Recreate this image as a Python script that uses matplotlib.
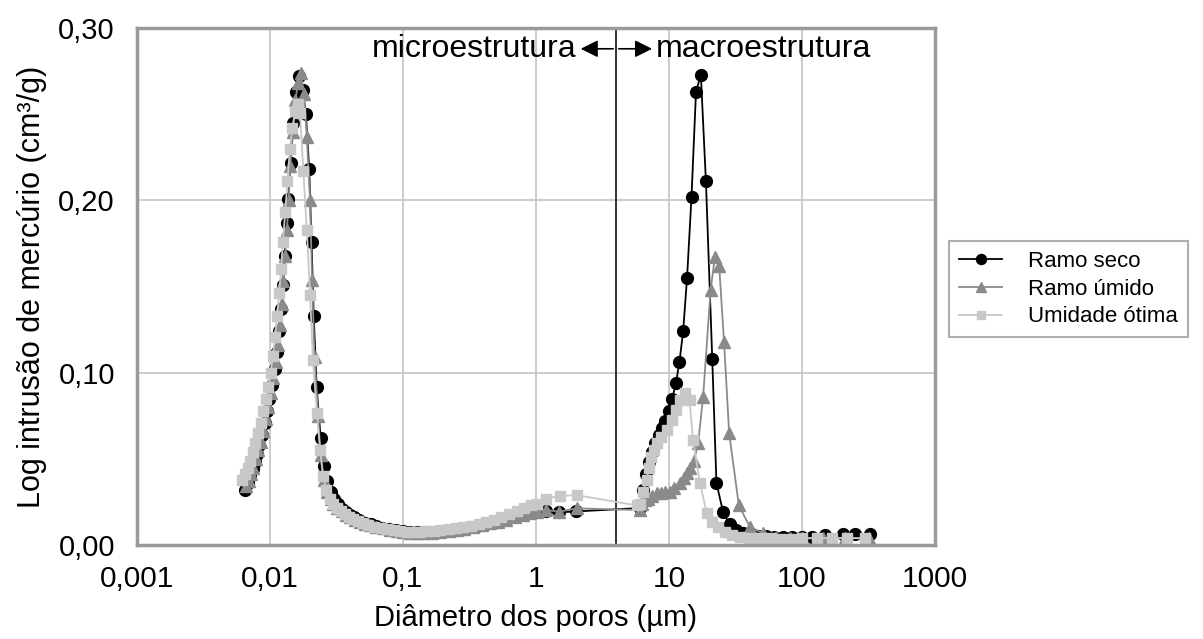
import matplotlib.pyplot as plt
from matplotlib.ticker import FixedLocator, NullLocator

plt.rcParams['font.family'] = ['Liberation Sans', 'DejaVu Sans']

# Ramo seco
x_seco = [0.0065, 0.0068, 0.0071, 0.0074, 0.0077, 0.0080, 0.0083, 0.0087, 0.0091, 0.0095,
          0.0099, 0.0104, 0.0109, 0.0113, 0.0117, 0.0121, 0.0125, 0.0129, 0.0133, 0.0137,
          0.0143, 0.0150, 0.0157, 0.0164, 0.0176, 0.0186, 0.0197, 0.0205, 0.0213, 0.0224,
          0.0240, 0.0255, 0.0270, 0.0287, 0.0305, 0.0325, 0.0347, 0.0372, 0.0400, 0.043,
          0.047, 0.052, 0.057, 0.063, 0.070, 0.078, 0.088, 0.100, 0.113, 0.127,
          0.142, 0.160, 0.180, 0.203, 0.228, 0.255, 0.285, 0.320, 0.360, 0.405,
          0.455, 0.51, 0.57, 0.64, 0.72, 0.80, 0.90, 1.01, 1.20, 1.50,
          2.00, 6.05, 6.35, 6.7, 7.1, 7.5, 7.9, 8.4, 8.9, 9.4,
          10.0, 10.6, 11.3, 12.0, 12.8, 13.7, 14.8, 16.0, 17.4, 19.0,
          21.2, 22.8, 25.6, 28.7, 32, 36, 41, 47, 54, 62,
          72, 84, 100, 120, 149, 203, 250, 324]
y_seco = [0.032, 0.036, 0.040, 0.044, 0.048, 0.053, 0.058, 0.064, 0.071, 0.078,
          0.085, 0.093, 0.102, 0.112, 0.124, 0.137, 0.151, 0.168, 0.187, 0.201,
          0.222, 0.245, 0.263, 0.272, 0.264, 0.250, 0.218, 0.176, 0.133, 0.092,
          0.062, 0.046, 0.037, 0.031, 0.027, 0.024, 0.021, 0.019, 0.0175, 0.016,
          0.0145, 0.013, 0.012, 0.011, 0.0100, 0.0092, 0.0085, 0.0080, 0.0076, 0.0074,
          0.0073, 0.0075, 0.0078, 0.0082, 0.0086, 0.0090, 0.0096, 0.0102, 0.0110, 0.0118,
          0.0127, 0.0137, 0.0148, 0.0160, 0.0172, 0.0182, 0.0192, 0.0198, 0.0200, 0.0190,
          0.0195, 0.0215, 0.032, 0.041, 0.048, 0.054, 0.059, 0.064, 0.068, 0.072,
          0.078, 0.085, 0.094, 0.106, 0.124, 0.155, 0.202, 0.263, 0.273, 0.211,
          0.108, 0.036, 0.019, 0.012, 0.0087, 0.007, 0.006, 0.0055, 0.005, 0.0048,
          0.0047, 0.0046, 0.0046, 0.0048, 0.006, 0.0065, 0.0066, 0.0062]

# Ramo úmido
x_umido = [0.0066, 0.0069, 0.0072, 0.0075, 0.0078, 0.0081, 0.0085, 0.0089, 0.0093, 0.0097,
           0.0101, 0.0106, 0.0110, 0.0114, 0.0118, 0.0122, 0.0126, 0.0130, 0.0134, 0.0138,
           0.0142, 0.0148, 0.0155, 0.0162, 0.0170, 0.0180, 0.0189, 0.0200, 0.0207, 0.0216,
           0.0230, 0.0240, 0.0255, 0.0270, 0.0285, 0.0300, 0.0320, 0.0346, 0.0370, 0.0400,
           0.0435, 0.0475, 0.052, 0.0565, 0.063, 0.0707, 0.080, 0.0897, 0.100, 0.113,
           0.127, 0.142, 0.165, 0.19, 0.22, 0.253, 0.29, 0.338, 0.39, 0.45,
           0.52, 0.60, 0.70, 0.80, 0.90, 1.01, 1.20, 1.50, 2.02, 6.05,
           6.3, 6.6, 7.0, 7.5, 8.1, 8.7, 9.4, 10.2, 11.0, 12.1,
           13.0, 13.6, 14.5, 15.4, 16.6, 18.1, 20.6, 22.2, 23.9, 26.0,
           28.4, 33.6, 40.6, 51, 64, 81, 100, 145, 210, 320]
y_umido = [0.034, 0.037, 0.041, 0.045, 0.050, 0.055, 0.060, 0.066, 0.073, 0.080,
           0.088, 0.097, 0.106, 0.116, 0.128, 0.140, 0.153, 0.168, 0.183, 0.200,
           0.220, 0.240, 0.258, 0.268, 0.274, 0.262, 0.237, 0.200, 0.154, 0.109,
           0.075, 0.052, 0.038, 0.031, 0.027, 0.024, 0.0215, 0.0195, 0.0175, 0.0160,
           0.0148, 0.0135, 0.0125, 0.0116, 0.0105, 0.0097, 0.0088, 0.0080, 0.0075, 0.0072,
           0.0070, 0.0068, 0.0072, 0.0077, 0.0082, 0.0087, 0.0095, 0.0105, 0.0115, 0.0126,
           0.0135, 0.0145, 0.0160, 0.0174, 0.0185, 0.0194, 0.0203, 0.0194, 0.0213, 0.0203,
           0.024, 0.026, 0.027, 0.0285, 0.030, 0.0305, 0.031, 0.031, 0.033, 0.036,
           0.039, 0.042, 0.045, 0.0485, 0.059, 0.086, 0.148, 0.167, 0.162, 0.118,
           0.065, 0.023, 0.0107, 0.0068, 0.0048, 0.0040, 0.0040, 0.0040, 0.0040, 0.0040]

# Umidade ótima
x_otima = [0.0062, 0.0065, 0.0068, 0.0071, 0.0074, 0.0077, 0.0081, 0.0085, 0.0089, 0.0093,
           0.0097, 0.0101, 0.0105, 0.0109, 0.0113, 0.0117, 0.0121, 0.0125, 0.0130, 0.0135,
           0.0141, 0.0147, 0.0155, 0.0162, 0.0168, 0.0178, 0.0189, 0.0200, 0.0210, 0.0225,
           0.0238, 0.0250, 0.0265, 0.0280, 0.0298, 0.0318, 0.034, 0.0365, 0.039, 0.042,
           0.046, 0.050, 0.055, 0.061, 0.068, 0.076, 0.085, 0.095, 0.107, 0.12,
           0.135, 0.15, 0.17, 0.19, 0.22, 0.25, 0.285, 0.325, 0.37, 0.42,
           0.48, 0.55, 0.63, 0.72, 0.82, 0.92, 1.01, 1.20, 1.51, 2.02,
           5.72, 6.05, 6.4, 6.8, 7.1, 7.4, 7.7, 8.1, 8.8, 9.6,
           10.5, 11.3, 12.1, 13.2, 14.3, 15.2, 17.1, 19.3, 21.0, 23.4,
           26.5, 30, 34, 40, 48, 58, 70, 85, 100, 130,
           170, 220, 300]
y_otima = [0.038, 0.041, 0.045, 0.049, 0.054, 0.059, 0.065, 0.071, 0.078, 0.085,
           0.092, 0.100, 0.110, 0.121, 0.133, 0.146, 0.160, 0.176, 0.193, 0.211,
           0.230, 0.242, 0.252, 0.256, 0.251, 0.217, 0.183, 0.145, 0.1075, 0.0766,
           0.055, 0.040, 0.032, 0.027, 0.024, 0.0215, 0.0195, 0.0178, 0.0163, 0.015,
           0.0138, 0.0127, 0.0117, 0.0107, 0.0098, 0.0091, 0.0085, 0.0081, 0.0078, 0.0077,
           0.0077, 0.0079, 0.0082, 0.0086, 0.0091, 0.0097, 0.0104, 0.0113, 0.0122, 0.0133,
           0.0145, 0.0160, 0.0178, 0.0198, 0.0218, 0.0232, 0.024, 0.027, 0.0285, 0.029,
           0.023, 0.024, 0.031, 0.038, 0.045, 0.051, 0.055, 0.059, 0.063, 0.067,
           0.0727, 0.0785, 0.084, 0.088, 0.084, 0.061, 0.036, 0.0186, 0.0135, 0.0107,
           0.0077, 0.006, 0.0048, 0.0042, 0.004, 0.004, 0.0038, 0.0038, 0.004, 0.004,
           0.004, 0.004, 0.004]

x_ticks = [0.001, 0.01, 0.1, 1, 10, 100, 1000]
x_tick_labels = ['0,001', '0,01', '0,1', '1', '10', '100', '1000']
y_ticks = [0.0, 0.1, 0.2, 0.3]
y_tick_labels = ['0,00', '0,10', '0,20', '0,30']
limite = 4  # separação micro / macro

fig = plt.figure(figsize=(12.03, 6.39), dpi=100)
ax = fig.add_axes([0.114, 0.147, 0.663, 0.809])

ax.plot(x_seco, y_seco, color='black', lw=1.3, marker='o', ms=8.5,
        mfc='black', mec='black', label='Ramo seco')
ax.plot(x_umido, y_umido, color='#8a8a8a', lw=1.3, marker='^', ms=8.5,
        mfc='#8a8a8a', mec='#8a8a8a', label='Ramo úmido')
ax.plot(x_otima, y_otima, color='#c8c8c8', lw=1.3, marker='s', ms=7.5,
        mfc='#c8c8c8', mec='#c8c8c8', label='Umidade ótima')

ax.axvline(limite, color='#222222', lw=1.3, zorder=1)

ax.set_xscale('log')
ax.set_xlim(0.001, 1000)
ax.set_ylim(0, 0.30)
ax.xaxis.set_major_locator(FixedLocator(x_ticks))
ax.xaxis.set_minor_locator(NullLocator())
ax.set_xticks(x_ticks, x_tick_labels)
ax.set_yticks(y_ticks, y_tick_labels)
ax.tick_params(axis='x', length=0, labelsize=21.5, pad=14)
ax.tick_params(axis='y', length=0, labelsize=21, pad=16)
ax.grid(True, color='#c4c4c4', lw=1.2)
ax.set_axisbelow(True)
for s in ax.spines.values():
    s.set_color('#9a9a9a')
    s.set_linewidth(2.5)

ax.set_xlabel('Diâmetro dos poros (µm)', fontsize=21, labelpad=8)
ax.set_ylabel('Log intrusão de mercúrio (cm³/g)', fontsize=22, labelpad=8)

# setas micro / macro
ax.annotate('', xy=(2.07, 0.288), xytext=(limite, 0.288),
            arrowprops=dict(arrowstyle='-|>', color='black', lw=1.2, mutation_scale=26))
ax.annotate('', xy=(7.85, 0.288), xytext=(limite, 0.288),
            arrowprops=dict(arrowstyle='-|>', color='black', lw=1.2, mutation_scale=26))
ax.text(2.02, 0.288, 'microestrutura', ha='right', va='center', fontsize=23)
ax.text(8.0, 0.288, 'macroestrutura', ha='left', va='center', fontsize=23)

leg = fig.legend(loc='upper left', bbox_to_anchor=(0.780, 0.64), fontsize=16,
                 frameon=True, fancybox=False, edgecolor='#9a9a9a',
                 handlelength=1.9, handletextpad=1.2, borderpad=0.45,
                 labelspacing=0.3, markerscale=0.85)
leg.get_frame().set_linewidth(1.5)

fig.savefig('out.png', dpi=100)
